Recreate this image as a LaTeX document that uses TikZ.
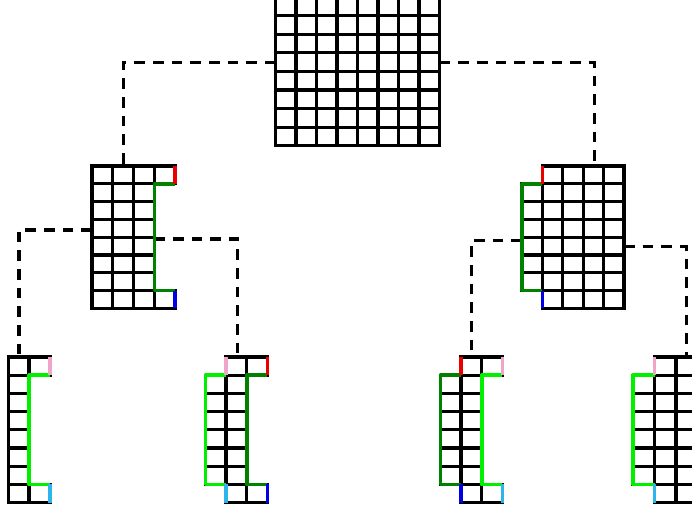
\documentclass[tikz,border=0pt]{standalone}
\usepackage{tikz}

\tikzset{
  cell/.style={line width=2.5pt},
  link/.style={line width=2.6pt, dash pattern=on 8pt off 6pt},
  edgered/.style={line width=2.7pt, color={rgb, 255:red, 235; green, 0; blue, 0 }},
  edgeblue/.style={line width=2.7pt, color={rgb, 255:red, 0; green, 0; blue, 230 }},
  edgepink/.style={line width=2.7pt, color={rgb, 255:red, 240; green, 165; blue, 200 }},
  edgecyan/.style={line width=2.7pt, color={rgb, 255:red, 45; green, 180; blue, 235 }},
  brdark/.style={line width=2.7pt, line join=round, color={rgb, 255:red, 0; green, 130; blue, 0 }},
  brlime/.style={line width=2.7pt, line join=round, color={rgb, 255:red, 0; green, 240; blue, 0 }}
}

\begin{document}
\begin{tikzpicture}[x=0.75pt,y=0.75pt,yscale=-1,xscale=1]
\useasboundingbox (0,0) rectangle (692,509);

% Joints
\coordinate (top-l) at (275.5,62.7);
\coordinate (top-r) at (439.5,62.7);
\coordinate (lm-t) at (123.3,166);
\coordinate (lm-l) at (92,230);
\coordinate (lm-r) at (154.4,239);
\coordinate (rm-t) at (594.5,166);
\coordinate (rm-l) at (522,240.7);
\coordinate (rm-r) at (624,246.7);
\coordinate (bl-t) at (19,357);
\coordinate (blr-t) at (237.3,357);
\coordinate (brl-t) at (471.7,357);
\coordinate (brr-t) at (686.7,357);

% Dashed links
\draw [link] (top-l) -| (lm-t);
\draw [link] (top-r) -| (rm-t);
\draw [link] (lm-l) -| (bl-t);
\draw [link] (lm-r) -| (blr-t);
\draw [link] (rm-l) -| (brl-t);
\draw [link] (rm-r) -| (brr-t);

%Shape: Grid top
\foreach \c in {0,...,7} \foreach \r in {0,...,7}
  \draw [cell] ({275.5+20.5*\c},{-3+18.6*\r}) rectangle ++(20.5,18.6);

%Shape: Grid left
\foreach \c in {0,1,2} \foreach \r in {0,...,7}
  \draw [cell] ({92+20.8*\c},{166+17.8*\r}) rectangle ++(20.8,17.8);
\foreach \r in {0,7}
  \draw [cell] (154.4,{166+17.8*\r}) rectangle ++(20.8,17.8);
\draw [brdark] (175.2,183.8) -- (154.4,183.8) -- (154.4,290.6) -- (175.2,290.6);
\draw [edgered] (175.2,166) -- (175.2,183.8);
\draw [edgeblue] (175.2,290.6) -- (175.2,308.4);

%Shape: Grid right
\foreach \r in {1,...,6}
  \draw [cell] (522,{166+17.8*\r}) rectangle ++(20.4,17.8);
\foreach \c in {1,...,4} \foreach \r in {0,...,7}
  \draw [cell] ({522+20.4*\c},{166+17.8*\r}) rectangle ++(20.4,17.8);
\draw [brdark] (542.4,183.8) -- (522,183.8) -- (522,290.6) -- (542.4,290.6);
\draw [edgered] (542.4,166) -- (542.4,183.8);
\draw [edgeblue] (542.4,290.6) -- (542.4,308.4);

%Shape: Grid bottom 1
\foreach \r in {0,...,7}
  \draw [cell] (8.3,{357+18.2*\r}) rectangle ++(20.8,18.2);
\foreach \r in {0,7}
  \draw [cell] (29.1,{357+18.2*\r}) rectangle ++(20.8,18.2);
\draw [brlime] (49.9,375.2) -- (29.1,375.2) -- (29.1,484.4) -- (49.9,484.4);
\draw [edgepink] (49.9,357) -- (49.9,375.2);
\draw [edgecyan] (49.9,484.4) -- (49.9,502.6);

%Shape: Grid bottom 2
\foreach \r in {1,...,6}
  \draw [cell] (205.5,{357+18.2*\r}) rectangle ++(20.6,18.2);
\foreach \r in {0,...,7}
  \draw [cell] (226.1,{357+18.2*\r}) rectangle ++(20.6,18.2);
\foreach \r in {0,7}
  \draw [cell] (246.7,{357+18.2*\r}) rectangle ++(20.6,18.2);
\draw [brlime] (226.1,375.2) -- (205.5,375.2) -- (205.5,484.4) -- (226.1,484.4);
\draw [edgepink] (226.1,357) -- (226.1,375.2);
\draw [edgecyan] (226.1,484.4) -- (226.1,502.6);
\draw [brdark] (267.3,375.2) -- (246.7,375.2) -- (246.7,484.4) -- (267.3,484.4);
\draw [edgered] (267.3,357) -- (267.3,375.2);
\draw [edgeblue] (267.3,484.4) -- (267.3,502.6);

%Shape: Grid bottom 3
\foreach \r in {1,...,6}
  \draw [cell] (440.5,{357+18.2*\r}) rectangle ++(20.6,18.2);
\foreach \r in {0,...,7}
  \draw [cell] (461.1,{357+18.2*\r}) rectangle ++(20.6,18.2);
\foreach \r in {0,7}
  \draw [cell] (481.7,{357+18.2*\r}) rectangle ++(20.6,18.2);
\draw [brdark] (461.1,375.2) -- (440.5,375.2) -- (440.5,484.4) -- (461.1,484.4);
\draw [edgered] (461.1,357) -- (461.1,375.2);
\draw [edgeblue] (461.1,484.4) -- (461.1,502.6);
\draw [brlime] (502.3,375.2) -- (481.7,375.2) -- (481.7,484.4) -- (502.3,484.4);
\draw [edgepink] (502.3,357) -- (502.3,375.2);
\draw [edgecyan] (502.3,484.4) -- (502.3,502.6);

%Shape: Grid bottom 4
\foreach \r in {1,...,6}
  \draw [cell] (633,{357+18.2*\r}) rectangle ++(21.5,18.2);
\foreach \c in {1,2} \foreach \r in {0,...,7}
  \draw [cell] ({633+21.5*\c},{357+18.2*\r}) rectangle ++(21.5,18.2);
\draw [brlime] (654.5,375.2) -- (633,375.2) -- (633,484.4) -- (654.5,484.4);
\draw [edgepink] (654.5,357) -- (654.5,375.2);
\draw [edgecyan] (654.5,484.4) -- (654.5,502.6);

\end{tikzpicture}
\end{document}
